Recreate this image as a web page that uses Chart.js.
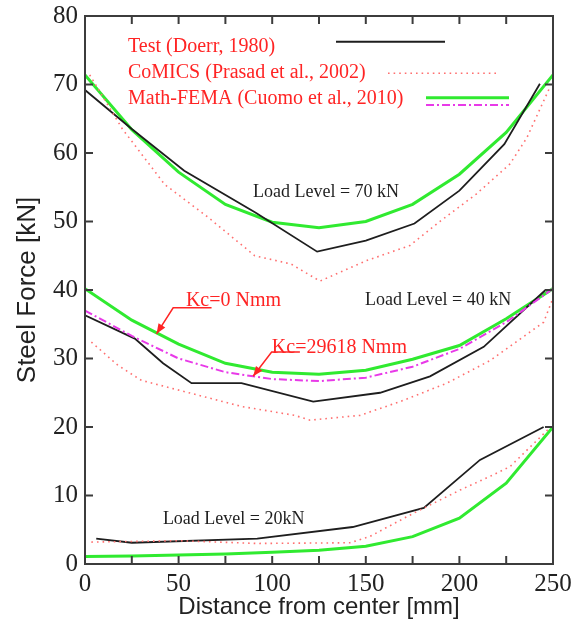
<!DOCTYPE html>
<html><head><meta charset="utf-8">
<script src="https://cdn.jsdelivr.net/npm/chart.js@4/dist/chart.umd.min.js"></script>
<style>html,body{margin:0;padding:0;background:#fff;}#wrap{width:571px;height:634px;}</style>
</head><body><div id="wrap"><canvas id="c" width="571" height="634"></canvas></div>
<script>
// ---- data ----
const xTickValues = [0,25,50,75,100,125,150,175,200,225,250];
const xTickLabels = ['0','50','100','150','200','250'];
const yTickLabels = ['0','10','20','30','40','50','60','70','80'];

const test70X = [0, 25, 53, 91, 124, 150, 176, 200, 224, 243];
const test70Y = [69.2, 63.5, 57.4, 51.3, 45.6, 47.2, 49.7, 54.5, 61.3, 70.1];
const test40X = [0, 26.6, 41.7, 56.9, 83.6, 121.9, 157.6, 184.3, 213, 246];
const test40Y = [36.3, 32.9, 29.3, 26.4, 26.4, 23.7, 25.0, 27.4, 31.7, 40.0];
const test20X = [6, 25, 92, 143, 181, 211, 245];
const test20Y = [3.7, 3.1, 3.7, 5.4, 8.2, 15.2, 20.0];

const comics70X = [2.5, 20, 42.6, 65.8, 90.7, 110, 125.5, 150.5, 173.6, 190, 209, 227, 236, 248.5];
const comics70Y = [71.4, 63.5, 55.4, 50.6, 45.0, 43.8, 41.3, 44.3, 46.5, 50.1, 54.0, 58.4, 62.2, 69.7];
const comics40X = [3.4, 17.6, 30.2, 56.9, 83.6, 112, 120.2, 146.9, 168.3, 193.3, 216.4, 245, 250];
const comics40Y = [32.4, 29.0, 26.8, 24.9, 23.0, 21.7, 21.0, 21.7, 23.7, 26.4, 29.7, 35.3, 38.8];
const comics20X = [3.4, 50, 92, 141.5, 152, 175.4, 200.4, 216.4, 227, 248];
const comics20Y = [3.2, 3.4, 3.0, 3.1, 4.0, 7.4, 10.8, 12.8, 14.2, 19.8];

const femaX = [0, 25, 50, 75, 100, 125, 150, 175, 200, 225, 250];
const fema70 = [71.4, 63.4, 57.2, 52.5, 49.9, 49.1, 50.0, 52.5, 56.9, 63.0, 71.4];
const fema40 = [40.2, 35.6, 32.1, 29.3, 28.0, 27.7, 28.3, 29.9, 31.9, 35.8, 40.2];
const fema40Kc = [37.0, 33.3, 30.0, 28.0, 27.0, 26.7, 27.2, 28.8, 31.4, 35.3, 40.2];
const fema20 = [1.1, 1.15, 1.3, 1.45, 1.7, 2.0, 2.6, 4.0, 6.7, 11.8, 20.0];

const legendLabels = ['Test (Doerr, 1980)', 'CoMICS (Prasad et al., 2002)', 'Math-FEMA (Cuomo et al., 2010)'];

// ---- styles ----
const BLACK = '#1e1e1e', PINK = '#ff6f6f', GREEN = '#30ea30', MAGENTA = '#e83ae8', RED = '#ff2424';
const SERIF = "'Liberation Serif', 'Times New Roman', serif";
const SANS = "'Liberation Sans', Arial, sans-serif";

function pts(xs, ys){ return xs.map((x,i)=>({x:x, y:ys[i]})); }
function ds(data, color, width, dash){
  return {data:data, borderColor:color, borderWidth:width, borderDash:dash||[], showLine:true,
          pointRadius:0, fill:false, tension:0, borderCapStyle:'butt'};
}

const datasets = [
  ds(pts(comics70X, comics70Y), PINK, 1.6, [1.6,4]),
  ds(pts(comics40X, comics40Y), PINK, 1.6, [1.6,4]),
  ds(pts(comics20X, comics20Y), PINK, 1.6, [1.6,4]),
  ds(pts(femaX, fema40Kc), MAGENTA, 2, [8,3,2,3]),
  ds(pts(test70X, test70Y), BLACK, 1.8),
  ds(pts(test40X, test40Y), BLACK, 1.8),
  ds(pts(test20X, test20Y), BLACK, 1.8),
  ds(pts(femaX, fema70), GREEN, 3),
  ds(pts(femaX, fema40), GREEN, 3),
  ds(pts(femaX, fema20), GREEN, 3),
];

const notes = [
  {text:'Load Level = 70 kN', x:89.7, y:54.2, color:BLACK, size:18},
  {text:'Load Level = 40 kN', x:149.6, y:38.5, color:BLACK, size:18},
  {text:'Load Level = 20kN', x:41.6, y:6.5, color:BLACK, size:18},
  {text:'Kc=0 Nmm', x:53.9, y:38.4, color:RED, size:20},
  {text:'Kc=29618 Nmm', x:99.8, y:31.6, color:RED, size:20},
];
const arrows = [
  {ex:47.1, ey:37.4, ux:67.6, tx:38.2, ty:33.6},
  {ex:99.7, ey:30.95, ux:114.8, tx:89.8, ty:27.4},
];

const decor = {
  id:'decor',
  afterDraw(chart){
    const ctx = chart.ctx, a = chart.chartArea, xs = chart.scales.x, ys = chart.scales.y;
    ctx.save();
    // frame
    ctx.strokeStyle = '#3c3c3c'; ctx.lineWidth = 2;
    ctx.strokeRect(a.left, a.top, a.right-a.left, a.bottom-a.top);
    // inward ticks
    ctx.beginPath();
    const TL = 8;
    xTickValues.forEach(v=>{
      const p = xs.getPixelForValue(v);
      ctx.moveTo(p, a.bottom); ctx.lineTo(p, a.bottom-TL);
      ctx.moveTo(p, a.top); ctx.lineTo(p, a.top+TL);
    });
    yTickLabels.forEach(l=>{
      const p = ys.getPixelForValue(+l);
      ctx.moveTo(a.left, p); ctx.lineTo(a.left+TL, p);
      ctx.moveTo(a.right, p); ctx.lineTo(a.right-TL, p);
    });
    ctx.stroke();

    // legend
    ctx.font = '20px ' + SERIF; ctx.fillStyle = RED; ctx.textBaseline = 'middle'; ctx.textAlign = 'left';
    const lx = a.left + 43;
    ctx.fillText(legendLabels[0], lx, 46.5);
    ctx.fillText(legendLabels[1], lx, 72.5);
    ctx.fillText(legendLabels[2], lx, 98.5);
    ctx.lineCap = 'butt';
    ctx.strokeStyle = BLACK; ctx.lineWidth = 2; ctx.setLineDash([]);
    ctx.beginPath(); ctx.moveTo(336, 41.7); ctx.lineTo(445, 41.7); ctx.stroke();
    ctx.strokeStyle = PINK; ctx.lineWidth = 1.6; ctx.setLineDash([1.6,4]);
    ctx.beginPath(); ctx.moveTo(388, 73.3); ctx.lineTo(500, 73.3); ctx.stroke();
    ctx.strokeStyle = GREEN; ctx.lineWidth = 3; ctx.setLineDash([]);
    ctx.beginPath(); ctx.moveTo(426, 97.7); ctx.lineTo(509, 97.7); ctx.stroke();
    ctx.strokeStyle = MAGENTA; ctx.lineWidth = 2; ctx.setLineDash([8,3,2,3]);
    ctx.beginPath(); ctx.moveTo(426, 105); ctx.lineTo(509, 105); ctx.stroke();
    ctx.setLineDash([]);

    // notes
    notes.forEach(n=>{
      ctx.font = n.size + 'px ' + SERIF; ctx.fillStyle = n.color;
      ctx.fillText(n.text, xs.getPixelForValue(n.x), ys.getPixelForValue(n.y));
    });
    // arrows
    ctx.strokeStyle = RED; ctx.fillStyle = RED; ctx.lineWidth = 1.5;
    arrows.forEach(r=>{
      const ex = xs.getPixelForValue(r.ex), ey = ys.getPixelForValue(r.ey);
      const ux = xs.getPixelForValue(r.ux);
      const tx = xs.getPixelForValue(r.tx), ty = ys.getPixelForValue(r.ty);
      ctx.beginPath(); ctx.moveTo(ux, ey); ctx.lineTo(ex, ey); ctx.lineTo(tx, ty); ctx.stroke();
      const ang = Math.atan2(ty-ey, tx-ex), L = 10, W = 4;
      ctx.beginPath();
      ctx.moveTo(tx, ty);
      ctx.lineTo(tx - L*Math.cos(ang) + W*Math.sin(ang), ty - L*Math.sin(ang) - W*Math.cos(ang));
      ctx.lineTo(tx - L*Math.cos(ang) - W*Math.sin(ang), ty - L*Math.sin(ang) + W*Math.cos(ang));
      ctx.closePath(); ctx.fill();
    });
    ctx.restore();
  }
};

new Chart(document.getElementById('c'), {
  type:'scatter',
  data:{datasets:datasets},
  options:{
    responsive:false, animation:false, devicePixelRatio:1,
    layout:{padding:{top:16, right:18, left:0, bottom:0}},
    plugins:{legend:{display:false}, tooltip:{enabled:false}},
    scales:{
      x:{type:'linear', min:0, max:250,
         afterBuildTicks(s){ s.ticks = xTickValues.map(v=>({value:v})); },
         afterFit(s){ s.height = 70; s.paddingLeft = 0; s.paddingRight = 0; },
         grid:{display:false, drawTicks:false}, border:{display:false},
         ticks:{autoSkip:false, maxRotation:0, padding:5, color:'#222',
                font:{family:SERIF, size:25},
                callback(v){ return xTickLabels.includes(String(v)) ? String(v) : ''; }},
         title:{display:true, text:'Distance from center [mm]', color:'#222',
                font:{family:SANS, size:24}, padding:{top:0, bottom:12}}},
      y:{type:'linear', min:0, max:80,
         afterBuildTicks(s){ s.ticks = yTickLabels.map(l=>({value:+l})); },
         afterFit(s){ s.width = 85; s.paddingTop = 0; s.paddingBottom = 0; },
         grid:{display:false, drawTicks:false}, border:{display:false},
         ticks:{padding:7, color:'#222', font:{family:SERIF, size:25},
                callback(v){ return yTickLabels.includes(String(v)) ? String(v) : ''; }},
         title:{display:true, text:'Steel Force [kN]', color:'#222',
                font:{family:SANS, size:26}, padding:{top:12, bottom:0}}}
    }
  },
  plugins:[decor]
});
</script></body></html>
